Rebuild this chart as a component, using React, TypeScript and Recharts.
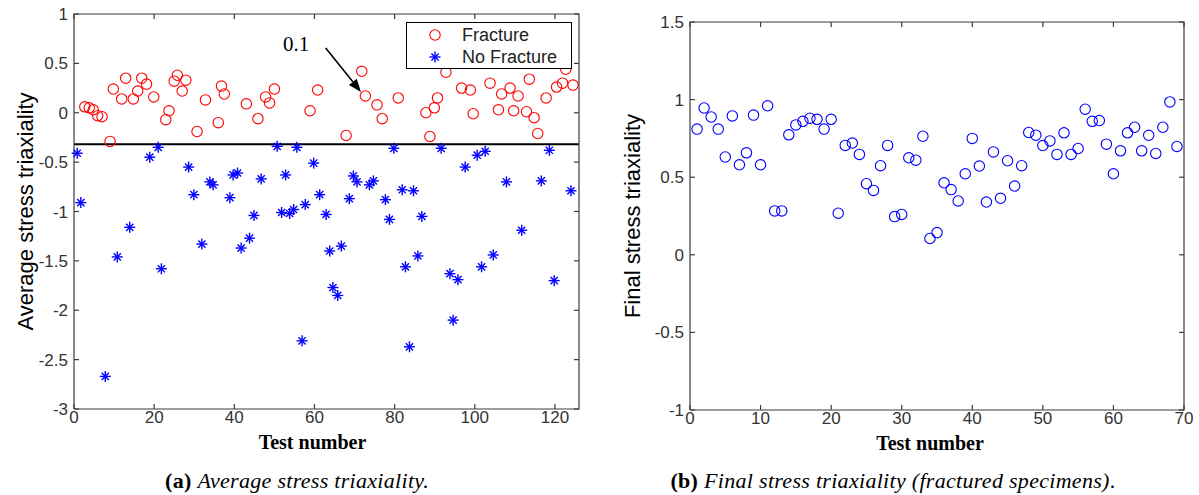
import React from "react";
import {
  ScatterChart,
  Scatter,
  XAxis,
  YAxis,
  ReferenceLine,
  ReferenceDot,
  Legend,
} from "recharts";

// (a) average stress triaxiality per test
const fractureTest = [
  2.7, 3.8, 4.8, 5.9, 7.0, 9.0, 9.8, 11.9, 12.9, 14.8, 15.9, 16.9, 18.1, 19.9,
  22.9, 23.7, 25.0, 25.8, 27.0, 27.9, 30.7, 32.8, 36.0, 36.8, 37.5, 43.0, 45.9,
  47.8, 48.8, 50.0, 58.9, 60.8, 67.9, 71.8, 72.7, 75.6, 76.9, 80.9, 87.8, 88.8,
  89.9, 90.7, 92.8, 96.7, 98.9, 99.6, 103.8, 105.9, 106.7, 108.8, 109.7, 110.8,
  112.9, 113.6, 114.8, 115.7, 117.8, 120.4, 121.9, 122.7, 124.5,
];
const fractureAvg = [
  0.06, 0.05, 0.03, -0.03, -0.04, -0.29, 0.24, 0.14, 0.35, 0.14, 0.22, 0.35,
  0.29, 0.16, -0.07, 0.02, 0.32, 0.38, 0.22, 0.33, -0.19, 0.13, -0.1, 0.27,
  0.19, 0.09, -0.06, 0.16, 0.1, 0.24, 0.02, 0.23, -0.23, 0.42, 0.17, 0.08,
  -0.06, 0.15, 0.0, -0.24, 0.05, 0.15, 0.41, 0.25, 0.23, -0.01, 0.3, 0.03, 0.19,
  0.25, 0.02, 0.17, 0.01, 0.34, -0.05, -0.21, 0.15, 0.26, 0.3, 0.44, 0.28,
];
const noFractureTest = [
  0.8, 1.7, 7.8, 10.8, 13.9, 18.9, 21.0, 21.8, 28.6, 29.9, 31.9, 33.9, 34.7,
  38.9, 39.7, 40.8, 41.7, 43.8, 44.9, 46.7, 50.7, 51.8, 52.8, 53.8, 54.8, 55.6,
  56.9, 57.7, 59.8, 61.3, 62.9, 63.8, 64.6, 65.8, 66.7, 68.7, 69.7, 70.6, 73.7,
  74.7, 77.7, 78.7, 79.8, 81.9, 82.7, 83.7, 84.7, 85.8, 86.8, 91.6, 93.8, 94.6,
  95.8, 97.6, 100.6, 101.7, 102.6, 104.6, 107.9, 111.7, 116.6, 118.6, 119.8,
  124.0,
];
const noFractureAvg = [
  -0.41, -0.91, -2.67, -1.46, -1.16, -0.45, -0.35, -1.58, -0.55, -0.83, -1.33,
  -0.7, -0.73, -0.86, -0.63, -0.61, -1.37, -1.27, -1.04, -0.67, -0.34, -1.01,
  -0.63, -1.02, -0.98, -0.35, -2.31, -0.93, -0.51, -0.83, -1.03, -1.4, -1.77,
  -1.85, -1.35, -0.87, -0.64, -0.7, -0.73, -0.69, -0.88, -1.08, -0.36, -0.78,
  -1.56, -2.37, -0.79, -1.45, -1.05, -0.36, -1.63, -2.1, -1.69, -0.55, -0.43,
  -1.56, -0.39, -1.44, -0.7, -1.19, -0.69, -0.38, -1.7, -0.79,
];
const threshold = -0.32;

// (b) final stress triaxiality, fractured specimens 1..69
const finalTriax = [
  0.81, 0.946, 0.888, 0.81, 0.63, 0.895, 0.58, 0.657, 0.9, 0.58, 0.96, 0.283,
  0.283, 0.773, 0.837, 0.86, 0.88, 0.873, 0.81, 0.873, 0.268, 0.705, 0.72,
  0.647, 0.458, 0.415, 0.574, 0.705, 0.246, 0.26, 0.625, 0.61, 0.764, 0.105,
  0.143, 0.464, 0.42, 0.347, 0.522, 0.75, 0.572, 0.34, 0.663, 0.364, 0.606,
  0.443, 0.574, 0.788, 0.771, 0.704, 0.734, 0.647, 0.786, 0.647, 0.685, 0.938,
  0.86, 0.865, 0.713, 0.522, 0.67, 0.786, 0.822, 0.67, 0.77, 0.653, 0.822,
  0.985, 0.698,
];

const xDomainA = [0, 126];
const yDomainA = [-3, 1];
const xTicksA = [0, 20, 40, 60, 80, 100, 120];
const yTicksA = [1, 0.5, 0, -0.5, -1, -1.5, -2, -2.5, -3];
const xDomainB = [0, 70];
const yDomainB = [-1, 1.5];
const xTicksB = [0, 10, 20, 30, 40, 50, 60, 70];
const yTicksB = [1.5, 1, 0.5, 0, -0.5, -1];

const fractureData = fractureTest.map((t, i) => ({ test: t, value: fractureAvg[i] }));
const noFractureData = noFractureTest.map((t, i) => ({ test: t, value: noFractureAvg[i] }));
const finalData = finalTriax.map((v, i) => ({ test: i + 1, value: v }));

// frame of a panel: box corners and inward tick anchors, taken from domains and ticks
const boxOf = (xd: number[], yd: number[]) => [
  { test: xd[0], value: yd[0] },
  { test: xd[0], value: yd[1] },
  { test: xd[1], value: yd[1] },
  { test: xd[1], value: yd[0] },
  { test: xd[0], value: yd[0] },
];
const ticksOf = (xd: number[], yd: number[], xt: number[], yt: number[]) => [
  ...xt.map((t) => ({ test: t, value: yd[0], dir: "up" })),
  ...xt.map((t) => ({ test: t, value: yd[1], dir: "down" })),
  ...yt.map((v) => ({ test: xd[0], value: v, dir: "right" })),
  ...yt.map((v) => ({ test: xd[1], value: v, dir: "left" })),
];

const SANS = "'Liberation Sans', Arial, sans-serif";
const SERIF = "'Liberation Serif', 'Times New Roman', serif";
const AXIS = "#3c3c3c";
const TICK = 5;

const RedCircle = (p: any) =>
  p.cx == null ? <g /> : (
    <circle cx={p.cx} cy={p.cy} r={5.2} fill="none" stroke="#ff0000" strokeWidth={1.1} />
  );

const BlueCircle = (p: any) =>
  p.cx == null ? <g /> : (
    <circle cx={p.cx} cy={p.cy} r={5.2} fill="none" stroke="#0000ff" strokeWidth={1.1} />
  );

const NoMark = () => <g />;

const TickMark = (p: any) => {
  if (p.cx == null) return <g />;
  const dir = (p.payload && p.payload.dir) || p.dir;
  const dx = dir === "right" ? TICK : dir === "left" ? -TICK : 0;
  const dy = dir === "up" ? -TICK : dir === "down" ? TICK : 0;
  return <line x1={p.cx} y1={p.cy} x2={p.cx + dx} y2={p.cy + dy} stroke={AXIS} strokeWidth={1.2} />;
};

const BlueStar = (p: any) => {
  if (p.cx == null) return <g />;
  const { cx, cy } = p;
  const s = 5.5;
  const d = 3.6;
  return (
    <g stroke="#0000ff" strokeWidth={1.4}>
      <line x1={cx - s} y1={cy} x2={cx + s} y2={cy} />
      <line x1={cx} y1={cy - s} x2={cx} y2={cy + s} />
      <line x1={cx - d} y1={cy - d} x2={cx + d} y2={cy + d} />
      <line x1={cx - d} y1={cy + d} x2={cx + d} y2={cy - d} />
    </g>
  );
};

const ArrowShape = (p: any) => {
  const { x1, y1, x2, y2 } = p;
  if ([x1, y1, x2, y2].some((v) => typeof v !== "number")) return <g />;
  const a = Math.atan2(y2 - y1, x2 - x1);
  const len = 13;
  const w = 5;
  const bx = x2 - len * Math.cos(a);
  const by = y2 - len * Math.sin(a);
  const nx = -Math.sin(a) * w;
  const ny = Math.cos(a) * w;
  return (
    <g>
      <line x1={x1} y1={y1} x2={bx} y2={by} stroke="#000" strokeWidth={1.6} />
      <polygon points={`${x2},${y2} ${bx + nx},${by + ny} ${bx - nx},${by - ny}`} fill="#000" />
    </g>
  );
};

const LegendBox = () => (
  <div
    style={{
      width: 164,
      height: 45,
      border: "1px solid #000",
      background: "#fff",
      position: "relative",
      fontFamily: SANS,
      fontSize: 18,
      color: "#222",
    }}
  >
    <svg width={20} height={20} style={{ position: "absolute", left: 18, top: 2 }}>
      <circle cx={10} cy={10} r={5.2} fill="none" stroke="#ff0000" strokeWidth={1.1} />
    </svg>
    <div style={{ position: "absolute", left: 55, top: 1, lineHeight: "22px" }}>Fracture</div>
    <svg width={20} height={20} style={{ position: "absolute", left: 18, top: 24 }}>
      <BlueStar cx={10} cy={10} />
    </svg>
    <div style={{ position: "absolute", left: 55, top: 23, lineHeight: "22px" }}>No Fracture</div>
  </div>
);

const tickFont = (size: number) => ({ fill: "#333", fontSize: size, fontFamily: SANS });

const yTitle = (text: string, x: number) => (p: any) => {
  const vb = p.viewBox || {};
  const cy = vb.y + vb.height / 2;
  return (
    <text
      transform={`translate(${x},${cy}) rotate(-90)`}
      textAnchor="middle"
      fontFamily={SANS}
      fontSize={22}
      fill="#000"
    >
      {text}
    </text>
  );
};

const xTitle = (shift: number) => (p: any) => {
  const vb = p.viewBox || {};
  return (
    <text
      x={vb.x + vb.width / 2 + shift}
      y={vb.y + 40}
      textAnchor="middle"
      fontFamily={SERIF}
      fontWeight="bold"
      fontSize={20}
      fill="#000"
    >
      Test number
    </text>
  );
};

function ChartA() {
  return (
    <ScatterChart width={590} height={495} margin={{ top: 14, right: 11, left: 0, bottom: 45 }}>
      <XAxis
        type="number"
        dataKey="test"
        domain={xDomainA}
        ticks={xTicksA}
        height={41}
        axisLine={false}
        tickLine={false}
        tickSize={0}
        tickMargin={2}
        tick={tickFont(17)}
        label={{ content: xTitle(-14) }}
      />
      <YAxis
        type="number"
        dataKey="value"
        domain={yDomainA}
        ticks={yTicksA}
        width={74}
        axisLine={false}
        tickLine={false}
        tickSize={0}
        tickMargin={6}
        tick={tickFont(17)}
        label={{ content: yTitle("Average stress triaxiality", 33) }}
      />
      <Scatter
        data={boxOf(xDomainA, yDomainA)}
        line={{ stroke: AXIS, strokeWidth: 1.2 }}
        shape={NoMark}
        legendType="none"
        isAnimationActive={false}
      />
      <Scatter
        data={ticksOf(xDomainA, yDomainA, xTicksA, yTicksA)}
        shape={TickMark}
        legendType="none"
        isAnimationActive={false}
      />
      <ReferenceLine y={threshold} stroke="#000" strokeWidth={2} />
      <ReferenceLine
        segment={[
          { x: 62.8, y: 0.655 },
          { x: 71.6, y: 0.21 },
        ]}
        shape={ArrowShape}
      />
      <ReferenceDot
        x={55.4}
        y={0.7}
        shape={(p: any) => (
          <text x={p.cx} y={p.cy + 7} textAnchor="middle" fontFamily={SERIF} fontSize={21} fill="#000">
            0.1
          </text>
        )}
      />
      <Scatter name="Fracture" data={fractureData} shape={RedCircle} isAnimationActive={false} />
      <Scatter name="No Fracture" data={noFractureData} shape={BlueStar} isAnimationActive={false} />
      <Legend
        layout="horizontal"
        align="center"
        verticalAlign="middle"
        content={() => <LegendBox />}
        wrapperStyle={{ left: 406, top: 22, width: 166 }}
      />
    </ScatterChart>
  );
}

function ChartB() {
  return (
    <ScatterChart width={599} height={495} margin={{ top: 22, right: 15, left: 0, bottom: 45 }}>
      <XAxis
        type="number"
        dataKey="test"
        domain={xDomainB}
        ticks={xTicksB}
        height={40}
        axisLine={false}
        tickLine={false}
        tickSize={0}
        tickMargin={2}
        tick={tickFont(17)}
        label={{ content: xTitle(-7) }}
      />
      <YAxis
        type="number"
        dataKey="value"
        domain={yDomainB}
        ticks={yTicksB}
        width={90}
        axisLine={false}
        tickLine={false}
        tickSize={0}
        tickMargin={6}
        tick={tickFont(17)}
        label={{ content: yTitle("Final stress triaxiality", 40) }}
      />
      <Scatter
        data={boxOf(xDomainB, yDomainB)}
        line={{ stroke: AXIS, strokeWidth: 1.2 }}
        shape={NoMark}
        legendType="none"
        isAnimationActive={false}
      />
      <Scatter
        data={ticksOf(xDomainB, yDomainB, xTicksB, yTicksB)}
        shape={TickMark}
        legendType="none"
        isAnimationActive={false}
      />
      <Scatter data={finalData} shape={BlueCircle} isAnimationActive={false} />
    </ScatterChart>
  );
}

const captionStyle: React.CSSProperties = {
  position: "absolute",
  top: 469,
  fontFamily: SERIF,
  fontSize: 22,
  letterSpacing: 0.3,
  lineHeight: "24px",
  textAlign: "center",
  color: "#000",
};

export default function App() {
  return (
    <div
      style={{
        position: "absolute",
        left: 0,
        top: 0,
        width: 1199,
        height: 495,
        background: "#fff",
        overflow: "hidden",
      }}
    >
      <div style={{ position: "absolute", left: 0, top: 0 }}>
        <ChartA />
      </div>
      <div style={{ position: "absolute", left: 600, top: 0 }}>
        <ChartB />
      </div>
      <div style={{ ...captionStyle, left: 0, width: 594 }}>
        <b>(a)</b> <i>Average stress triaxiality.</i>
      </div>
      <div style={{ ...captionStyle, left: 600, width: 586 }}>
        <b>(b)</b> <i>Final stress triaxiality (fractured specimens)</i>.
      </div>
    </div>
  );
}
